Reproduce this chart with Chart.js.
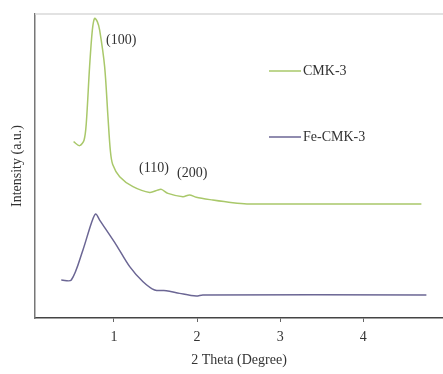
<!DOCTYPE html>
<html lang="en">
<head>
  <meta charset="UTF-8">
  <title>XRD CMK-3</title>
  <script src="https://cdn.jsdelivr.net/npm/chart.js@4"></script>
  <style>
    html, body { margin: 0; padding: 0; background: #fff; }
    #wrap { position: relative; width: 443px; height: 374px; }
  </style>
</head>
<body>
  <div id="wrap"><canvas id="xrd" width="443" height="374"></canvas></div>
  <script>
    // 2 theta (degree) and intensity (a.u.)
    const cmkTheta = [0.514, 0.587, 0.64, 0.667, 0.707, 0.740, 0.767, 0.80, 0.828, 0.888, 0.928, 0.957, 0.985, 1.069, 1.229, 1.43, 1.53, 1.571, 1.65, 1.83, 1.91, 1.99, 2.19, 2.43, 2.6, 3.0, 4.70];
    const cmkIntensity = [58.0, 56.7, 58.5, 64.0, 82.7, 94.7, 98.6, 97.5, 94.7, 82.7, 66.2, 55.0, 50.5, 46.5, 43.2, 41.3, 42.1, 42.3, 41.0, 39.9, 40.5, 39.7, 38.8, 37.9, 37.5, 37.5, 37.5];

    const feTheta = [0.366, 0.487, 0.627, 0.728, 0.78, 0.828, 1.029, 1.19, 1.35, 1.49, 1.63, 1.79, 1.99, 2.07, 4.76];
    const feIntensity = [12.5, 12.5, 22.4, 31.2, 34.2, 32.2, 24.0, 16.9, 11.9, 9.2, 9.0, 8.1, 7.2, 7.6, 7.6];

    const xTicks = [1, 2, 3, 4];
    const seriesNames = ['CMK-3', 'Fe-CMK-3'];
    const peakLabels = ['(100)', '(110)', '(200)'];

    const greenLine = '#a9c86a';
    const purpleLine = '#6b6694';
    const serif = "'Liberation Serif', 'DejaVu Serif', serif";

    function pts(xs, ys) {
      return xs.map((x, i) => ({ x: x, y: ys[i] }));
    }

    // legend, peak labels and top frame line
    const extras = {
      id: 'extras',
      afterDraw(chart) {
        const ctx = chart.ctx;
        const a = chart.chartArea;
        ctx.save();
        ctx.strokeStyle = '#d9d9d9';
        ctx.lineWidth = 1.5;
        ctx.beginPath();
        ctx.moveTo(a.left, a.top);
        ctx.lineTo(a.right, a.top);
        ctx.stroke();

        ctx.font = '14px ' + serif;
        ctx.fillStyle = '#333';
        ctx.textBaseline = 'middle';
        ctx.textAlign = 'left';
        const leg = [[greenLine, 71], [purpleLine, 137]];
        leg.forEach(([c, y], i) => {
          ctx.strokeStyle = c;
          ctx.lineWidth = 1.5;
          ctx.beginPath();
          ctx.moveTo(269, y);
          ctx.lineTo(301, y);
          ctx.stroke();
          ctx.fillText(seriesNames[i], 303, y);
        });

        ctx.fillText(peakLabels[0], 106, 40);
        ctx.fillText(peakLabels[1], 139, 168);
        ctx.fillText(peakLabels[2], 177, 173);
        ctx.restore();
      }
    };

    new Chart(document.getElementById('xrd'), {
      type: 'line',
      data: {
        datasets: [
          { label: seriesNames[0], data: pts(cmkTheta, cmkIntensity), borderColor: greenLine, borderWidth: 1.5, pointRadius: 0, tension: 0.3 },
          { label: seriesNames[1], data: pts(feTheta, feIntensity), borderColor: purpleLine, borderWidth: 1.5, pointRadius: 0, tension: 0.3 }
        ]
      },
      options: {
        responsive: false,
        animation: false,
        layout: { padding: { top: 14, right: 0, left: 0, bottom: 0 } },
        plugins: { legend: { display: false }, tooltip: { enabled: false } },
        scales: {
          x: {
            type: 'linear',
            min: 0.05,
            max: 4.96,
            afterBuildTicks: s => { s.ticks = xTicks.map(v => ({ value: v })); },
            afterFit: s => { s.height = 56; },
            grid: { display: true, drawOnChartArea: false, drawTicks: true, tickLength: 4, color: '#666' },
            border: { display: true, color: '#444', width: 1.5 },
            ticks: { color: '#333', padding: 7, font: { family: serif, size: 14 } },
            title: { display: true, text: '2 Theta (Degree)', color: '#333', padding: { top: 0, bottom: 5 }, font: { family: serif, size: 14 } }
          },
          y: {
            min: 0,
            max: 100,
            afterFit: s => { s.width = 35; },
            grid: { display: true, drawOnChartArea: false, drawTicks: false },
            border: { display: true, color: '#777', width: 1.5 },
            ticks: { display: false },
            title: { display: true, text: 'Intensity (a.u.)', color: '#333', padding: { top: 9, bottom: 0 }, font: { family: serif, size: 14 } }
          }
        }
      },
      plugins: [extras]
    });
  </script>
</body>
</html>
